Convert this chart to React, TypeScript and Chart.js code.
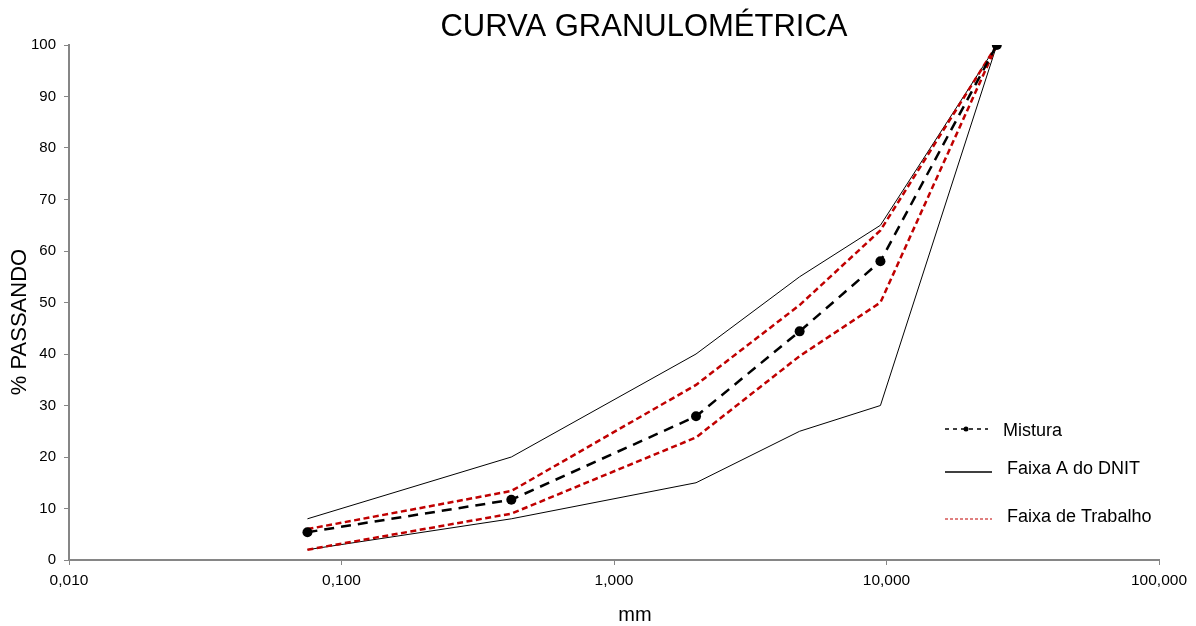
import React, { useEffect, useRef } from "react";
import { Chart, registerables } from "chart.js";

Chart.register(...registerables);

const sieves = [0.075, 0.42, 2.0, 4.8, 9.5, 25.4];
const mistura = [5.4, 11.7, 27.9, 44.4, 58, 100];
const dnitUpper = [8, 20, 40, 55, 65, 100];
const dnitLower = [2, 8, 15, 25, 30, 100];
const trabUpper = [6, 13.4, 34, 49.5, 64, 100];
const trabLower = [2, 9, 23.8, 39.6, 50, 100];
const xTicks = [0.01, 0.1, 1, 10, 100];
const yTicks = [0, 10, 20, 30, 40, 50, 60, 70, 80, 90, 100];

const chartTitle = "CURVA GRANULOMÉTRICA";
const yTitle = "% PASSANDO";
const xTitle = "mm";
const legendItems = ["Mistura", "Faixa A do DNIT", "Faixa de Trabalho"];

const FONT = '"Liberation Sans", Arial, sans-serif';
const RED = "#c00000";
const AXIS = "#868686";

const pts = (ys: number[]) => sieves.map((x, i) => ({ x, y: ys[i] }));

const textPlugin = {
  id: "texts",
  afterDraw(chart: any) {
    const ctx = chart.ctx as CanvasRenderingContext2D;
    ctx.save();
    ctx.fillStyle = "#000";
    // title
    ctx.font = `31px ${FONT}`;
    ctx.textAlign = "center";
    ctx.textBaseline = "alphabetic";
    ctx.fillText(chartTitle, 644, 36);
    // x title
    ctx.font = `20px ${FONT}`;
    ctx.fillText(xTitle, 635, 621);
    // y title
    ctx.save();
    ctx.translate(26, 322);
    ctx.rotate(-Math.PI / 2);
    ctx.font = `22px ${FONT}`;
    ctx.fillText(yTitle, 0, 0);
    ctx.restore();

    // legend
    ctx.textAlign = "left";
    ctx.font = `18px ${FONT}`;
    // Mistura
    ctx.strokeStyle = "#000";
    ctx.lineWidth = 1.5;
    ctx.setLineDash([4, 4]);
    ctx.beginPath();
    ctx.moveTo(945, 429);
    ctx.lineTo(988, 429);
    ctx.stroke();
    ctx.setLineDash([]);
    ctx.beginPath();
    ctx.arc(966, 429, 2.5, 0, Math.PI * 2);
    ctx.fillStyle = "#000";
    ctx.fill();
    ctx.fillText(legendItems[0], 1003, 436);
    // Faixa A
    ctx.lineWidth = 1.3;
    ctx.beginPath();
    ctx.moveTo(945, 472);
    ctx.lineTo(992, 472);
    ctx.stroke();
    ctx.fillText(legendItems[1], 1007, 474);
    // Trabalho
    ctx.strokeStyle = RED;
    ctx.lineWidth = 1;
    ctx.setLineDash([3, 2]);
    ctx.beginPath();
    ctx.moveTo(945, 519);
    ctx.lineTo(992, 519);
    ctx.stroke();
    ctx.setLineDash([]);
    ctx.fillText(legendItems[2], 1007, 522);
    ctx.restore();
  },
};

export default function App() {
  const ref = useRef<HTMLCanvasElement | null>(null);
  useEffect(() => {
    if (!ref.current) return;
    Chart.defaults.font.family = FONT;
    const chart = new Chart(ref.current, {
      type: "line",
      data: {
        datasets: [
          {
            label: "Mistura",
            data: pts(mistura),
            borderColor: "#000",
            backgroundColor: "#000",
            borderWidth: 2.5,
            borderDash: [10, 7],
            pointRadius: 5,
            pointBackgroundColor: "#000",
            pointBorderWidth: 0,
            order: 0,
          },
          {
            label: "Faixa de Trabalho sup",
            data: pts(trabUpper),
            borderColor: RED,
            borderWidth: 2.5,
            borderDash: [6, 3.5],
            pointRadius: 0,
            order: 1,
          },
          {
            label: "Faixa de Trabalho inf",
            data: pts(trabLower),
            borderColor: RED,
            borderWidth: 2.5,
            borderDash: [6, 3.5],
            pointRadius: 0,
            order: 1,
          },
          {
            label: "Faixa A sup",
            data: pts(dnitUpper),
            borderColor: "#000",
            borderWidth: 1,
            pointRadius: 0,
            order: 2,
          },
          {
            label: "Faixa A inf",
            data: pts(dnitLower),
            borderColor: "#000",
            borderWidth: 1,
            pointRadius: 0,
            order: 2,
          },
        ],
      },
      options: {
        responsive: false,
        animation: false,
        layout: { padding: { top: 45, right: 37, left: 0, bottom: 0 } },
        plugins: {
          legend: { display: false },
          title: { display: false },
          tooltip: { enabled: false },
        },
        scales: {
          x: {
            type: "logarithmic",
            min: 0.01,
            max: 100,
            afterFit: (s: any) => {
              s.height = 66;
            },
            afterBuildTicks: (s: any) => {
              s.ticks = xTicks.map((v) => ({ value: v }));
            },
            ticks: {
              autoSkip: false,
              maxRotation: 0,
              color: "#000",
              font: { size: 15.5 },
              padding: 6,
              callback: (v: any) => Number(v).toFixed(3).replace(".", ","),
            },
            grid: {
              display: true,
              drawOnChartArea: false,
              drawTicks: true,
              tickLength: 5,
              color: AXIS,
            },
            border: { display: true, color: AXIS, width: 2 },
          },
          y: {
            type: "linear",
            min: 0,
            max: 100,
            afterFit: (s: any) => {
              s.width = 69;
            },
            afterBuildTicks: (s: any) => {
              s.ticks = yTicks.map((v) => ({ value: v }));
            },
            ticks: {
              color: "#000",
              font: { size: 15 },
              padding: 8,
            },
            grid: {
              display: true,
              drawOnChartArea: false,
              drawTicks: true,
              tickLength: 5,
              color: AXIS,
            },
            border: { display: true, color: AXIS, width: 2 },
          },
        },
      },
      plugins: [textPlugin],
    });
    return () => chart.destroy();
  }, []);
  return (
    <div style={{ position: "fixed", left: 0, top: 0, width: 1196, height: 626, background: "#fff" }}>
      <canvas ref={ref} width={1196} height={626} style={{ width: 1196, height: 626 }} />
    </div>
  );
}
